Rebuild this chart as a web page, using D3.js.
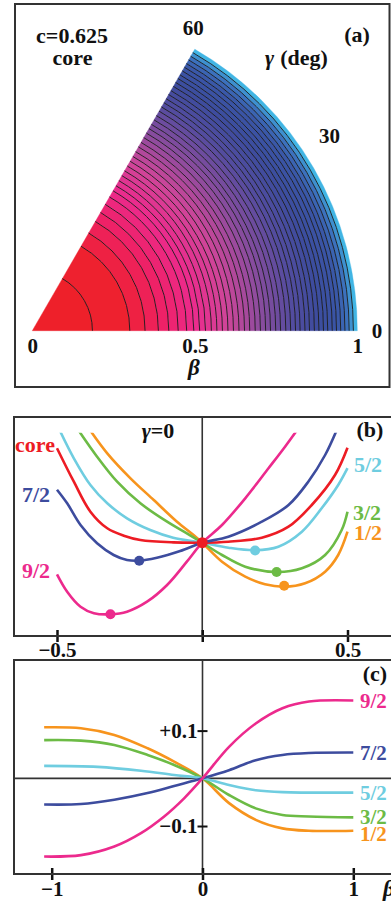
<!DOCTYPE html>
<html>
<head>
<meta charset="utf-8">
<script src="https://cdn.jsdelivr.net/npm/d3@7"></script>
<style>
  body { margin: 0; background: #fff; }
  svg text { font-family: "Liberation Serif", "Times New Roman", serif; font-weight: bold; font-size: 22px; fill: #111; }
</style>
</head>
<body>
<svg id="fig" width="391" height="901"></svg>
<script>
// ---- panel (a): contour radii along gamma = 0 (beta units)
const contourBeta = [0.185, 0.300, 0.347, 0.388, 0.420, 0.449, 0.475, 0.497, 0.515, 0.533,
  0.551, 0.568, 0.585, 0.602, 0.619, 0.636, 0.653, 0.669, 0.686, 0.702,
  0.718, 0.733, 0.749, 0.764, 0.780, 0.795, 0.810, 0.824, 0.839, 0.853,
  0.868, 0.882, 0.896, 0.909, 0.923, 0.936, 0.949, 0.962, 0.975, 0.988];
const betaTicksA = [0, 0.5, 1];
const gammaTicksA = [0, 30, 60];

// ---- panel (b): gamma = 0 cut, [beta, E] (E in arbitrary units)
const curveCoreB = [[-0.5, 0.945], [-0.442, 0.61], [-0.385, 0.31], [-0.327, 0.144], [-0.27, 0.07],
  [-0.213, 0.027], [-0.1, 0.003], [0, 0], [0.09, 0.01], [0.205, 0.05], [0.297, 0.16],
  [0.377, 0.377], [0.457, 0.677], [0.5, 0.95]];
const curve12B = [[-0.385, 1.12], [-0.327, 0.894], [-0.247, 0.644], [-0.167, 0.427], [-0.087, 0.21],
  [-0.03, 0.077], [0, 0], [0.068, -0.19], [0.148, -0.34], [0.216, -0.416], [0.283, -0.44],
  [0.354, -0.406], [0.423, -0.29], [0.468, -0.123], [0.5, 0.11]];
const curve32B = [[-0.425, 1.12], [-0.362, 0.86], [-0.293, 0.61], [-0.213, 0.394], [-0.121, 0.21],
  [-0.053, 0.094], [0, 0], [0.068, -0.123], [0.148, -0.24], [0.256, -0.293], [0.343, -0.256],
  [0.423, -0.123], [0.48, 0.127], [0.5, 0.31]];
const curve52B = [[-0.49, 1.12], [-0.442, 0.844], [-0.385, 0.577], [-0.327, 0.394], [-0.259, 0.244],
  [-0.179, 0.127], [-0.1, 0.05], [0, 0], [0.09, -0.05], [0.182, -0.075], [0.262, -0.04],
  [0.343, 0.11], [0.411, 0.344], [0.468, 0.577], [0.5, 0.745]];
const curve72B = [[-0.5, 0.53], [-0.465, 0.394], [-0.419, 0.177], [-0.362, -0.006], [-0.305, -0.123],
  [-0.259, -0.173], [-0.219, -0.18], [-0.156, -0.15], [-0.076, -0.083], [0, 0], [0.09, 0.06],
  [0.205, 0.21], [0.297, 0.377], [0.365, 0.61], [0.423, 0.877], [0.462, 1.12]];
const curve92B = [[-0.5, -0.316], [-0.465, -0.49], [-0.419, -0.64], [-0.373, -0.705], [-0.316, -0.716],
  [-0.259, -0.69], [-0.19, -0.59], [-0.121, -0.423], [-0.053, -0.19], [0, 0], [0.068, 0.177],
  [0.148, 0.444], [0.228, 0.744], [0.285, 0.96], [0.325, 1.12]];
const minimaB = [["core", 0, 0], ["7/2", -0.217, -0.18], ["9/2", -0.316, -0.716],
  ["5/2", 0.182, -0.078], ["3/2", 0.256, -0.293], ["1/2", 0.282, -0.43]];
const betaTicksB = [-0.5, 0, 0.5];

// ---- panel (c): [beta, value]
const curve12C = [[-1.05, 0.107], [-0.806, 0.105], [-0.585, 0.091], [-0.364, 0.063], [-0.188, 0.035],
  [0, 0], [0.176, -0.052], [0.353, -0.087], [0.53, -0.105], [0.706, -0.11], [1.0, -0.11]];
const curve32C = [[-1.05, 0.08], [-0.806, 0.079], [-0.585, 0.07], [-0.364, 0.049], [-0.188, 0.028],
  [0, 0], [0.176, -0.035], [0.353, -0.063], [0.53, -0.077], [0.706, -0.08], [1.0, -0.082]];
const curve52C = [[-1.05, 0.026], [-0.695, 0.024], [-0.408, 0.016], [-0.188, 0.007], [0, 0],
  [0.176, -0.014], [0.353, -0.025], [0.53, -0.029], [1.0, -0.03]];
const curve72C = [[-1.05, -0.055], [-0.806, -0.054], [-0.585, -0.045], [-0.364, -0.031], [-0.188, -0.016],
  [0, 0], [0.176, 0.017], [0.353, 0.038], [0.53, 0.049], [0.706, 0.053], [1.0, 0.054]];
const curve92C = [[-1.05, -0.164], [-0.806, -0.161], [-0.585, -0.143], [-0.408, -0.115], [-0.254, -0.08],
  [-0.122, -0.042], [0, 0], [0.176, 0.066], [0.353, 0.115], [0.53, 0.147], [0.706, 0.161], [1.0, 0.163]];
const betaTicksC = [-1, 0, 1];
const valueTicksC = [-0.1, 0.1];

const color = {
  "core": "#ed1c24", "1/2": "#f7941d", "3/2": "#6cbb45",
  "5/2": "#6fcde0", "7/2": "#3d4c9e", "9/2": "#ec2a8d"
};
const frameColor = "#333";
const tickFont = g => g
  .style("font-size", "21px").style("font-family", "Liberation Serif, serif")
  .style("font-weight", "bold").attr("fill", "#111");

const svg = d3.select("#fig");

// ================= (a) =================
const origin = [32.3, 330.7];
const rA = d3.scaleLinear().domain([0, 1]).range([0, 325]);
const angA = d3.scaleLinear().domain([0, 60]).range([Math.PI / 2, Math.PI / 6]); // d3.arc angles

const bandColor = d3.scaleLinear()
  .domain([0, 0.28, 0.4, 0.5, 0.6, 0.7, 0.8, 0.88, 0.94, 0.97, 0.99, 1])
  .range(["#ee2027", "#ee2130", "#ee2165", "#ec2a8c", "#cf4599", "#8d4c9e",
          "#544c9f", "#3c4c9e", "#3a56a6", "#3c72be", "#3fa6dc", "#45ccf0"]);

const edges = [0, ...contourBeta, 1];
const bands = d3.pairs(edges);

const gA = svg.append("g").attr("transform", `translate(${origin})`);

gA.selectAll("path.band")
  .data(bands)
  .join("path")
    .attr("class", "band")
    .attr("d", d3.arc()
      .innerRadius(d => rA(d[0]))
      .outerRadius(d => rA(d[1]))
      .startAngle(angA(60))
      .endAngle(angA(0)))
    .attr("fill", d => bandColor((d[0] + d[1]) / 2))
    .attr("stroke", d => bandColor((d[0] + d[1]) / 2))
    .attr("stroke-width", 0.4);

gA.selectAll("path.contour")
  .data(contourBeta)
  .join("path")
    .attr("class", "contour")
    .attr("d", b => {
      const p = d3.path();
      p.moveTo(rA(b), 0);
      p.arc(0, 0, rA(b), 0, -Math.PI / 3, true);
      return p.toString();
    })
    .attr("fill", "none")
    .attr("stroke", "#1a1a1a")
    .attr("stroke-width", 0.9);

// beta axis labels
gA.append("g")
  .call(d3.axisBottom(rA).tickValues(betaTicksA).tickSize(0).tickFormat(d3.format("~g")))
  .call(g => g.select(".domain").remove())
  .selectAll("text")
    .attr("dy", null)
    .attr("y", 22)
    .call(tickFont);

// gamma labels (nudged like the original)
const gammaNudge = { 0: [-0.3, 1.06, "start", 5], 30: [33, 1.09, "middle", 5], 60: [62, 1.055, "middle", 7] };
gA.selectAll("text.gam")
  .data(gammaTicksA)
  .join("text")
    .attr("class", "gam")
    .attr("x", g => rA(gammaNudge[g][1]) * Math.cos(gammaNudge[g][0] * Math.PI / 180) - (g === 0 ? 5 : 0))
    .attr("y", g => -rA(gammaNudge[g][1]) * Math.sin(gammaNudge[g][0] * Math.PI / 180) + gammaNudge[g][3])
    .attr("text-anchor", g => gammaNudge[g][2])
    .style("font-size", "21px")
    .text(g => g);

svg.append("text").attr("x", 72).attr("y", 43).attr("text-anchor", "middle").text("c=0.625");
svg.append("text").attr("x", 72.5).attr("y", 65).attr("text-anchor", "middle").text("core");
svg.append("text").attr("x", 357).attr("y", 42).attr("text-anchor", "middle").text("(a)");
const gdeg = svg.append("text").attr("x", 265).attr("y", 65);
gdeg.append("tspan").style("font-style", "italic").text("γ");
gdeg.append("tspan").attr("dx", 6).text("(deg)");
svg.append("text").attr("x", 194).attr("y", 375).attr("text-anchor", "middle")
  .style("font-style", "italic").style("font-size", "23px").text("β");

svg.append("rect").attr("x", 15).attr("y", 4).attr("width", 374.5).attr("height", 383)
  .attr("fill", "none").attr("stroke", frameColor).attr("stroke-width", 2);

// ================= (b) =================
const xB = d3.scaleLinear().domain([-0.5, 0.5]).range([57, 347.5]);
const yB = d3.scaleLinear().domain([-0.933, 1.257]).range([636, 417]);

svg.append("clipPath").attr("id", "clipB")
  .append("rect").attr("x", 14).attr("y", yB(1.1)).attr("width", 380).attr("height", 636 - yB(1.1));

svg.append("line").attr("x1", xB(0)).attr("x2", xB(0)).attr("y1", 417).attr("y2", 636)
  .attr("stroke", frameColor).attr("stroke-width", 1.6);

svg.append("g")
  .attr("transform", "translate(0,636)")
  .call(d3.axisBottom(xB).tickValues(betaTicksB).tickSize(6)
    .tickFormat(d => d === 0 ? "" : d3.format(".1f")(d)))
  .call(g => g.select(".domain").remove())
  .call(g => g.selectAll("line").attr("y1", -6).attr("stroke", "#111").attr("stroke-width", 2.5))
  .selectAll("text")
    .attr("dy", null).attr("y", 21)
    .call(tickFont);

const lineB = d3.line().x(d => xB(d[0])).y(d => yB(d[1])).curve(d3.curveCatmullRom.alpha(0.5));
const seriesB = [["1/2", curve12B], ["3/2", curve32B], ["5/2", curve52B],
                 ["core", curveCoreB], ["7/2", curve72B], ["9/2", curve92B]];

svg.append("g").attr("clip-path", "url(#clipB)")
  .selectAll("path")
  .data(seriesB)
  .join("path")
    .attr("d", d => lineB(d[1]))
    .attr("fill", "none")
    .attr("stroke", d => color[d[0]])
    .attr("stroke-width", 2.6);

svg.append("g").selectAll("circle")
  .data(minimaB)
  .join("circle")
    .attr("cx", d => xB(d[1]))
    .attr("cy", d => yB(d[2]))
    .attr("r", d => d[0] === "core" ? 5.5 : 5)
    .attr("fill", d => color[d[0]]);

const labelB = {
  "core": [55, 452, "end"], "7/2": [50, 502, "end"], "9/2": [50, 578, "end"],
  "5/2": [354, 472, "start"], "3/2": [353, 520, "start"], "1/2": [354, 540, "start"]
};
svg.append("g").selectAll("text")
  .data(Object.keys(labelB))
  .join("text")
    .attr("x", k => labelB[k][0]).attr("y", k => labelB[k][1])
    .attr("text-anchor", k => labelB[k][2])
    .style("fill", k => color[k])
    .text(k => k);

const g0 = svg.append("text").attr("x", 158).attr("y", 438).attr("text-anchor", "middle");
g0.append("tspan").style("font-style", "italic").text("γ");
g0.append("tspan").text("=0");
svg.append("text").attr("x", 370).attr("y", 437).attr("text-anchor", "middle").text("(b)");

svg.append("rect").attr("x", 14).attr("y", 417).attr("width", 382).attr("height", 219)
  .attr("fill", "none").attr("stroke", frameColor).attr("stroke-width", 2);

// ================= (c) =================
const xC = d3.scaleLinear().domain([-1, 1]).range([51.7, 353.3]);
const yC = d3.scaleLinear().domain([-0.2006, 0.248]).range([874, 660]);

svg.append("line").attr("x1", 14).attr("x2", 396).attr("y1", yC(0)).attr("y2", yC(0))
  .attr("stroke", frameColor).attr("stroke-width", 1.8);
svg.append("line").attr("x1", xC(0)).attr("x2", xC(0)).attr("y1", 660).attr("y2", 874)
  .attr("stroke", frameColor).attr("stroke-width", 1.6);

svg.append("g")
  .attr("transform", `translate(${xC(0)},0)`)
  .call(d3.axisLeft(yC).tickValues(valueTicksC).tickSize(5).tickPadding(0).tickFormat(d3.format("+.1f")))
  .call(g => g.select(".domain").remove())
  .call(g => g.selectAll("line").attr("x1", 5).attr("stroke", "#111").attr("stroke-width", 2))
  .selectAll("text")
    .call(tickFont);

svg.append("g")
  .attr("transform", "translate(0,874)")
  .call(d3.axisBottom(xC).tickValues(betaTicksC).tickSize(6).tickFormat(d3.format("d")))
  .call(g => g.select(".domain").remove())
  .call(g => g.selectAll("line").attr("y1", -6).attr("stroke", "#111").attr("stroke-width", 2.5))
  .selectAll("text")
    .attr("dy", null).attr("y", 22)
    .call(tickFont);

const lineC = d3.line().x(d => xC(d[0])).y(d => yC(d[1])).curve(d3.curveCatmullRom.alpha(0.5));
const seriesC = [["1/2", curve12C], ["3/2", curve32C], ["5/2", curve52C], ["7/2", curve72C], ["9/2", curve92C]];

svg.append("g").selectAll("path")
  .data(seriesC)
  .join("path")
    .attr("d", d => lineC(d[1]))
    .attr("fill", "none")
    .attr("stroke", d => color[d[0]])
    .attr("stroke-width", 2.6);

svg.append("g").selectAll("text")
  .data(seriesC)
  .join("text")
    .attr("x", 360)
    .attr("y", d => yC(d[1][d[1].length - 1][1]) + (d[0] === "1/2" ? 10 : 7))
    .style("fill", d => color[d[0]])
    .style("font-size", "21px")
    .text(d => d[0]);

svg.append("text").attr("x", 375).attr("y", 681).attr("text-anchor", "middle").text("(c)");
svg.append("text").attr("x", 383).attr("y", 896).style("font-style", "italic")
  .style("font-size", "23px").text("β");

svg.append("rect").attr("x", 14).attr("y", 660).attr("width", 382).attr("height", 214)
  .attr("fill", "none").attr("stroke", frameColor).attr("stroke-width", 2);
</script>
</body>
</html>
